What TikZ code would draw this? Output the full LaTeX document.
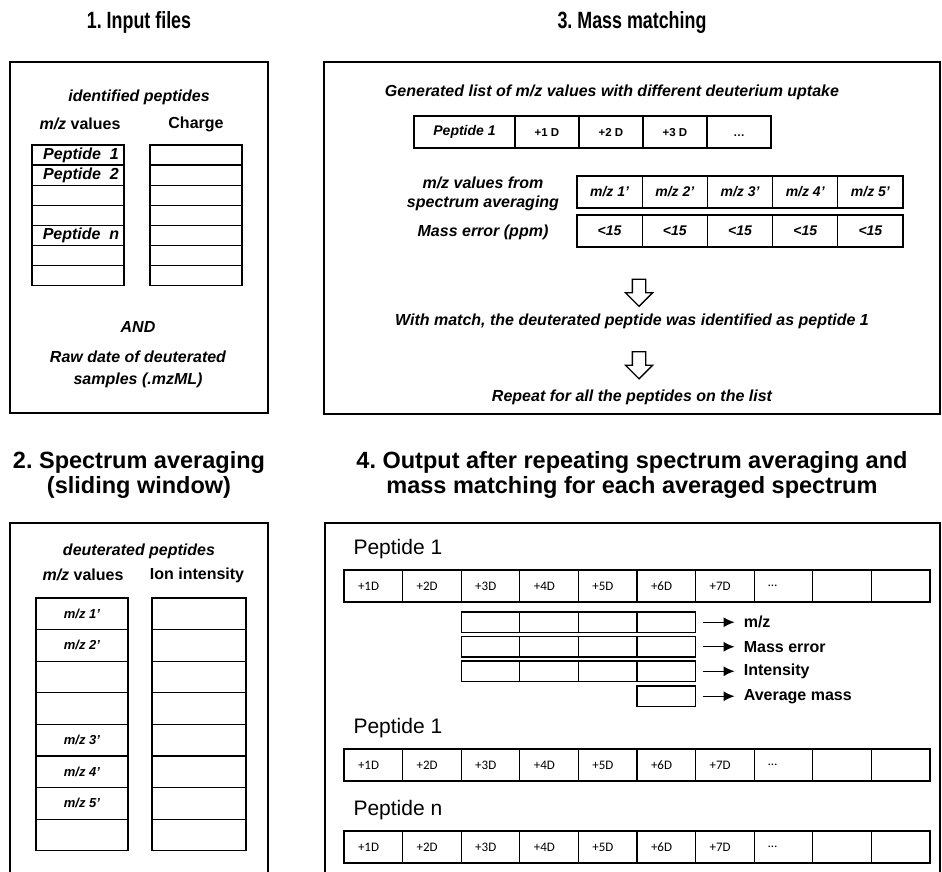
\documentclass[tikz,border=0pt]{standalone}
\usepackage{fontspec}
\setmainfont{Liberation Sans}
\newfontfamily\calibri{Carlito}
\usetikzlibrary{arrows.meta, positioning, shapes.arrows}

\begin{document}
\frenchspacing
\begin{tikzpicture}[x=1pt, y=-1pt,
    title/.style={font=\fontsize{23.5}{25}\selectfont\bfseries, align=center},
    panel/.style={line width=1.8pt},
    txt/.style={font=\fontsize{16}{19}\selectfont\bfseries\itshape, align=center},
    head/.style={font=\fontsize{16}{19}\selectfont\bfseries},
    cell/.style={draw, line width=1.3pt, inner sep=0pt, outer sep=0pt, anchor=north west},
    dcell/.style={cell, minimum height=32pt, text width=30.6pt, inner xsep=14pt,
        align=left, font=\calibri\fontsize{13}{15}\selectfont},
    pcell/.style={cell, minimum width=64pt, minimum height=32pt, text height=8.5pt, text depth=0pt,
        font=\fontsize{11.5}{13}\selectfont\bfseries},
    scell/.style={cell, minimum width=58.6pt, minimum height=20.5pt},
    hollow/.style={single arrow, draw, fill=white, line width=1.3pt, rotate=-90,
        inner sep=6pt, single arrow head extend=7pt, minimum height=27pt},
    arr/.style={-{Latex[length=11pt, width=10pt]}, line width=1.3pt},
    lab/.style={font=\fontsize{16}{19}\selectfont\bfseries, inner xsep=3pt}
]
\useasboundingbox (0,0) rectangle (942,872);

% 1. Input files
\node[title] (t1) at (139,22) {\scalebox{0.76}[1]{1. Input files}};
\draw[panel] (10,62) rectangle (268,413);
\node[txt] (idp) at (139,97) {identified peptides};
\node[head] (mz1) at (80,124) {\textit{m/z} values};
\node[head] (chg) at (196,124) {Charge};
\foreach \i in {0,...,6} {
    \node[cell, minimum width=92pt, minimum height=20.1pt] (L\i) at (32,{145+20.1*\i}) {};
    \node[cell, minimum width=92pt, minimum height=20.1pt] (R\i) at (150,{145+20.1*\i}) {};
}
\foreach \r/\t in {0/1, 1/2, 4/n}
    \node[txt, xshift=3pt] (pl\r) at (L\r) {Peptide\ \ \t};
\node[txt] (and) at (138,327) {AND};
\node[txt, font=\fontsize{16}{22}\selectfont\bfseries\itshape] (raw) at (138,369)
    {Raw date of deuterated\\samples (.mzML)};

% 3. Mass matching
\node[title] (t3) at (632,22) {\scalebox{0.76}[1]{3. Mass matching}};
\draw[panel] (324,62) rectangle (940,414);
\node[txt] (gen) at (612,92) {Generated list of m/z values with different deuterium uptake};
\node[cell, minimum width=101pt, minimum height=32pt, font=\fontsize{14}{17}\selectfont\bfseries\itshape]
    (pep) at (414,116) {Peptide 1};
\node[pcell] (d1) at (515,116) {+1 D};
\node[pcell] (d2) at (579,116) {+2 D};
\node[pcell] (d3) at (643,116) {+3 D};
\node[pcell] (d4) at (707,116) {\ldots};
\node[txt] (mzl) at (483,194) {m/z values from\\spectrum averaging};
\node[txt] (err) at (483,232) {Mass error (ppm)};
\foreach \i in {1,...,5} {
    \node[cell, minimum width=65.2pt, minimum height=32pt, font=\fontsize{14}{17}\selectfont\bfseries\itshape]
        (m\i) at ({577+65.2*(\i-1)},176) {m/z \i'};
    \node[cell, minimum width=65.2pt, minimum height=32pt, font=\fontsize{14}{17}\selectfont\bfseries\itshape]
        (e\i) at ({577+65.2*(\i-1)},215) {<15};
}
\node[hollow] (down1) at (639,289.5) {};
\node[txt] (match) at (632,321) {With match, the deuterated peptide was identified as peptide 1};
\node[hollow] (down2) at (639,362) {};
\node[txt] (rep) at (632,397) {Repeat for all the peptides on the list};

% 2. Spectrum averaging
\node[title] (t2) at (139,474.5) {2. Spectrum averaging\\(sliding window)};
\draw[panel] (10,872) |- (268,523) -- (268,872);
\node[txt] (dp) at (139,551) {deuterated peptides};
\node[head] (mz2) at (83,575) {\textit{m/z} values};
\node[head] (ion) at (197,575) {Ion intensity};
\foreach \i in {0,...,7} {
    \node[cell, minimum width=92pt, minimum height=31.6pt] (S\i) at (36,{598+31.6*\i}) {};
    \node[cell, minimum width=94pt, minimum height=31.6pt] (I\i) at (152,{598+31.6*\i}) {};
}
\foreach \r/\t in {0/1, 1/2, 4/3, 5/4, 6/5}
    \node[txt, font=\fontsize{13}{15}\selectfont\bfseries\itshape] (sl\r) at (S\r) {m/z \t'};

% 4. Output
\node[title] (t4) at (632,474.5) {4. Output after repeating spectrum averaging and\\mass matching for each averaged spectrum};
\draw[panel] (325,872) |- (940,523) -- (940,872);
\node[font=\fontsize{21}{24}\selectfont, anchor=west] (p1) at (350,549) {Peptide 1};
\node[font=\fontsize{21}{24}\selectfont, anchor=west] (p2) at (350,728) {Peptide 1};
\node[font=\fontsize{21}{24}\selectfont, anchor=west] (pn) at (350,810) {Peptide n};
\foreach \r/\y in {A/570, B/749, C/831}
    \foreach \t [count=\i] in {+1D,+2D,+3D,+4D,+5D,+6D,+7D,\ldots,{},{}}
        \node[dcell] (\r\i) at ({344+58.6*(\i-1)},\y) {\t};
\foreach \r/\y in {mz/612, er/636.5, in/661}
    \foreach \i in {1,...,4}
        \node[scell] (\r\i) at ({461.2+58.6*(\i-1)},\y) {};
\node[scell] (av) at (637,686) {};
\node[lab, right=45pt of mz4] (lmz) {m/z};
\node[lab, right=45pt of er4] (ler) {Mass error};
\node[lab, right=45pt of in4] (lin) {Intensity};
\node[lab, right=45pt of av] (lav) {Average mass};
\draw[arr, shorten <=7pt, shorten >=6pt] (mz4) -- (lmz);
\draw[arr, shorten <=7pt, shorten >=6pt] (er4) -- (ler);
\draw[arr, shorten <=7pt, shorten >=6pt] (in4) -- (lin);
\draw[arr, shorten <=7pt, shorten >=6pt] (av) -- (lav);

\end{tikzpicture}
\end{document}
